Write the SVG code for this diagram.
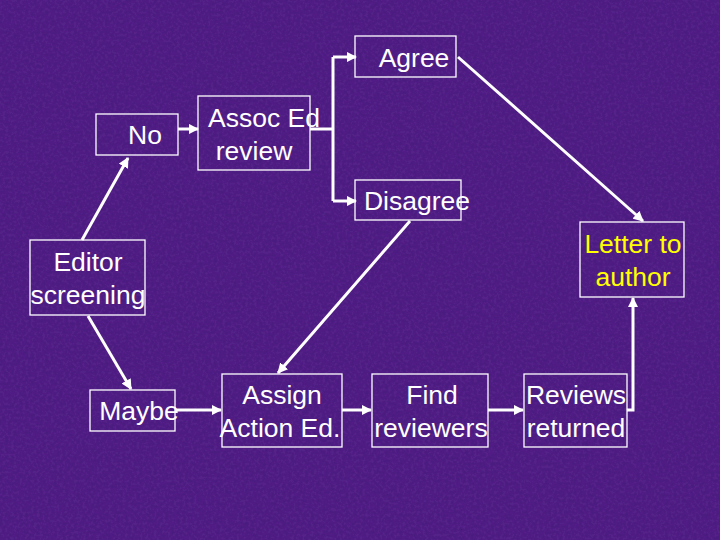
<svg xmlns="http://www.w3.org/2000/svg" width="720" height="540" viewBox="0 0 720 540">
<defs>
<filter id="tex" x="0" y="0" width="100%" height="100%"><feTurbulence type="fractalNoise" baseFrequency="0.35" numOctaves="2" seed="3"/><feColorMatrix values="0 0 0 0 0.12  0 0 0 0 0.02  0 0 0 0 0.3  0 0 0 0.7 0"/><feComposite in2="SourceGraphic" operator="over"/></filter>
<marker id="a" viewBox="0 0 10 10" refX="9" refY="5" markerWidth="3.5" markerHeight="3.5" orient="auto"><path d="M0,0L10,5L0,10z" fill="#fff"/></marker>
</defs>
<style>
.b{fill:none;stroke:#fff;stroke-width:1.3}
.t{font-family:"Liberation Sans",Arial,sans-serif;font-size:26.5px;fill:#fff;text-anchor:middle}
.c{fill:none;stroke:#fff;stroke-width:3;marker-end:url(#a)}
</style>
<rect width="720" height="540" fill="#44187a" filter="url(#tex)"/>
<g id="connectors">
<path class="c" d="M178,129H198"/>
<path d="M310,129H333M333,57V201" fill="none" stroke="#fff" stroke-width="3"/>
<path class="c" d="M333,57H356"/>
<path class="c" d="M333,201H356"/>
<path class="c" d="M458,57L643,221"/>
<path class="c" d="M410,221L278,373"/>
<path class="c" d="M82,240L128,158"/>
<path class="c" d="M88,316L131,389"/>
<path class="c" d="M176,410H221"/>
<path class="c" d="M342,410H371"/>
<path class="c" d="M488,410H523"/>
<path class="c" d="M627,410H633V298"/>
</g>
<g id="agree"><rect class="b" x="355" y="36" width="101" height="41"/><text class="t" x="414" y="67">Agree</text></g>
<g id="no"><rect class="b" x="96" y="114" width="82" height="41"/><text class="t" x="145" y="144">No</text></g>
<g id="assoc"><rect class="b" x="198" y="96" width="112" height="74"/><text class="t" x="264" y="127">Assoc Ed</text><text class="t" x="254" y="160">review</text></g>
<g id="disagree"><rect class="b" x="355" y="180" width="106" height="40"/><text class="t" x="417" y="210">Disagree</text></g>
<g id="editor"><rect class="b" x="30" y="240" width="115" height="75"/><text class="t" x="88" y="271">Editor</text><text class="t" x="88" y="304">screening</text></g>
<g id="letter"><rect class="b" x="580" y="222" width="104" height="75"/><text class="t" x="633" y="253" style="fill:#ffff00">Letter to</text><text class="t" x="633" y="286" style="fill:#ffff00">author</text></g>
<g id="maybe"><rect class="b" x="90" y="390" width="85" height="41"/><text class="t" x="139" y="420">Maybe</text></g>
<g id="assign"><rect class="b" x="222" y="374" width="120" height="73"/><text class="t" x="282" y="404">Assign</text><text class="t" x="280" y="437">Action Ed.</text></g>
<g id="find"><rect class="b" x="372" y="374" width="116" height="73"/><text class="t" x="432" y="404">Find</text><text class="t" x="431" y="437">reviewers</text></g>
<g id="reviews"><rect class="b" x="524" y="374" width="103" height="73"/><text class="t" x="576" y="404">Reviews</text><text class="t" x="576" y="437">returned</text></g>
</svg>
